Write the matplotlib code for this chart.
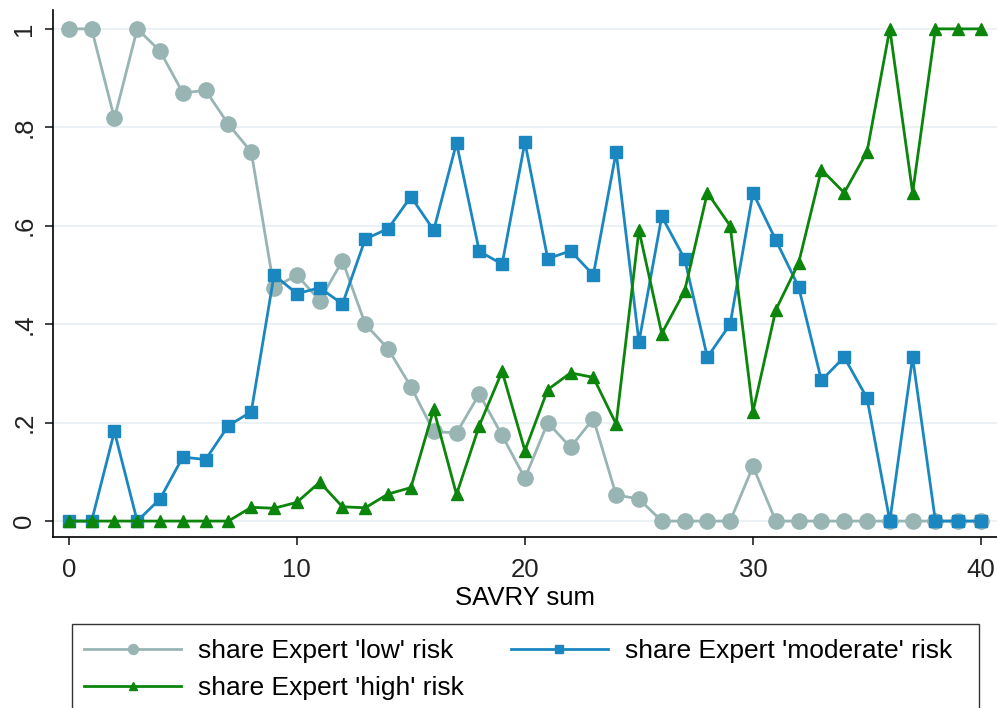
import matplotlib
matplotlib.use('Agg')
import matplotlib.pyplot as plt
from matplotlib.patches import Rectangle

# SAVRY sum 0..40
savry = list(range(41))

share_low = [1, 1, 0.818, 1, 0.955, 0.87, 0.875, 0.806, 0.75, 0.474,
             0.5, 0.448, 0.529, 0.40, 0.35, 0.273, 0.182, 0.179, 0.258, 0.174,
             0.087, 0.2, 0.15, 0.208, 0.053, 0.045, 0, 0, 0, 0,
             0.111, 0, 0, 0, 0, 0, 0, 0, 0, 0, 0]

share_moderate = [0, 0, 0.182, 0, 0.045, 0.13, 0.125, 0.194, 0.222, 0.5,
                  0.462, 0.474, 0.441, 0.573, 0.594, 0.659, 0.591, 0.768, 0.548, 0.522,
                  0.77, 0.533, 0.549, 0.5, 0.75, 0.364, 0.619, 0.533, 0.333, 0.4,
                  0.667, 0.571, 0.476, 0.286, 0.333, 0.25, 0, 0.333, 0, 0, 0]

share_high = [0, 0, 0, 0, 0, 0, 0, 0, 0.028, 0.026,
              0.038, 0.079, 0.029, 0.027, 0.055, 0.068, 0.227, 0.054, 0.194, 0.304,
              0.143, 0.267, 0.301, 0.292, 0.197, 0.591, 0.381, 0.467, 0.667, 0.6,
              0.222, 0.429, 0.524, 0.714, 0.667, 0.75, 1, 0.667, 1, 1, 1]

labels = ["share Expert 'low' risk", "share Expert 'moderate' risk", "share Expert 'high' risk"]
yticks = [0, 0.2, 0.4, 0.6, 0.8, 1]
ytick_labels = ["0", ".2", ".4", ".6", ".8", "1"]

plt.rcParams['font.family'] = ['Liberation Sans', 'DejaVu Sans']

fig = plt.figure(figsize=(9.97, 7.08), dpi=100)
ax = fig.add_axes([0.053, 0.2415, 0.947, 0.7445])

c_low = '#98b5b4'
c_mod = '#1a87c1'
c_high = '#0b850b'

l1, = ax.plot(savry, share_low, color=c_low, lw=2, marker='o', ms=11, label=labels[0], zorder=3)
l2, = ax.plot(savry, share_moderate, color=c_mod, lw=2, marker='s', ms=8, label=labels[1], zorder=4)
l3, = ax.plot(savry, share_high, color=c_high, lw=2, marker='^', ms=9, label=labels[2], zorder=5)

ax.set_xlim(-0.7, 40.7)
ax.set_ylim(-0.0324, 1.0385)
ax.set_xticks([0, 10, 20, 30, 40])
ax.set_yticks(yticks)
ax.set_yticklabels(ytick_labels, rotation=90, va='center')
ax.tick_params(axis='both', labelsize=18.5, direction='out', length=6, width=1.2, colors='#222222')
ax.tick_params(axis='x', pad=9)
ax.tick_params(axis='y', pad=6)
ax.grid(axis='y', color='#e8eff3', lw=1.2, zorder=0)
ax.spines['top'].set_visible(False)
ax.spines['right'].set_visible(False)
ax.spines['left'].set_linewidth(1.2)
ax.spines['bottom'].set_linewidth(1.2)
ax.set_xlabel("SAVRY sum", fontsize=18.5, labelpad=3)

# legend: row-wise order (low, moderate / high)
leg = fig.legend(handles=[l1, l3, l2], loc='upper left', ncol=2,
                 bbox_to_anchor=(0.076, 0.109),
                 fontsize=19, handlelength=3.7, handletextpad=0.65, columnspacing=1.75,
                 markerscale=0.65, frameon=False, borderpad=0.3, borderaxespad=0,
                 labelspacing=0.52)
fig.patches.append(Rectangle((72 / 997, -0.05), 907 / 997, 0.05 + 84 / 708,
                             transform=fig.transFigure, fill=False,
                             edgecolor='#333333', lw=1.0))

fig.savefig('out.png', dpi=100)
